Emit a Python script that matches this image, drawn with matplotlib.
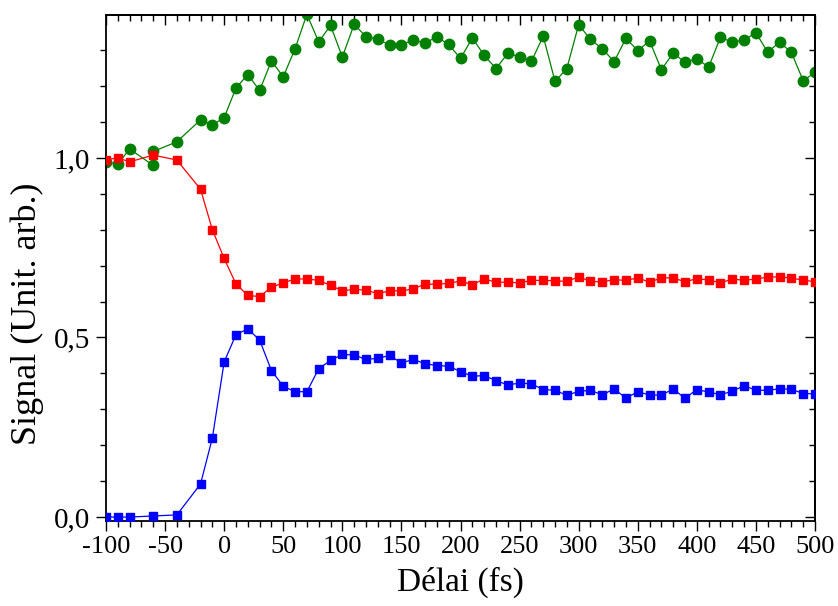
import matplotlib
matplotlib.use("Agg")
import matplotlib.pyplot as plt
from matplotlib.ticker import MultipleLocator, FuncFormatter

plt.rcParams['font.family'] = ['Liberation Serif', 'DejaVu Serif']

# Delay values (fs)
x_main = [-100, -90, -80, -60, -40, -20, -10] + list(range(0, 501, 10))
x_green = [-100, -90, -80, -60, -60, -40, -20, -10] + list(range(0, 501, 10))

green = [0.989, 0.983, 1.025, 0.979, 1.018, 1.045, 1.106, 1.092,
         1.112, 1.195, 1.232, 1.188, 1.270, 1.226, 1.304, 1.400, 1.323, 1.369,
         1.281, 1.372, 1.338, 1.330, 1.315, 1.315, 1.329, 1.320, 1.337, 1.316,
         1.277, 1.334, 1.286, 1.249, 1.291, 1.282, 1.269, 1.339, 1.213, 1.249,
         1.371, 1.330, 1.304, 1.268, 1.333, 1.299, 1.326, 1.246, 1.292, 1.266,
         1.276, 1.253, 1.336, 1.322, 1.329, 1.348, 1.295, 1.322, 1.294, 1.215,
         1.238]

red = [0.995, 1.000, 0.989, 1.008, 0.994, 0.913, 0.800,
       0.720, 0.649, 0.617, 0.614, 0.640, 0.652, 0.663, 0.663, 0.659, 0.645,
       0.630, 0.634, 0.632, 0.622, 0.630, 0.630, 0.635, 0.649, 0.648, 0.651,
       0.657, 0.647, 0.663, 0.654, 0.654, 0.652, 0.659, 0.659, 0.658, 0.656,
       0.669, 0.656, 0.655, 0.661, 0.659, 0.666, 0.654, 0.666, 0.666, 0.655,
       0.664, 0.660, 0.652, 0.663, 0.659, 0.663, 0.668, 0.669, 0.665, 0.660,
       0.655]

blue = [0.000, 0.000, 0.000, 0.003, 0.006, 0.092, 0.220,
        0.432, 0.508, 0.524, 0.493, 0.408, 0.364, 0.349, 0.349, 0.413, 0.436,
        0.453, 0.451, 0.439, 0.442, 0.450, 0.429, 0.439, 0.427, 0.422, 0.420,
        0.405, 0.392, 0.394, 0.380, 0.368, 0.373, 0.371, 0.355, 0.353, 0.339,
        0.350, 0.353, 0.340, 0.357, 0.331, 0.349, 0.340, 0.340, 0.356, 0.331,
        0.355, 0.348, 0.341, 0.350, 0.366, 0.353, 0.353, 0.357, 0.356, 0.344,
        0.343]

fig = plt.figure(figsize=(8.38, 6.06), dpi=100)
ax = fig.add_axes([106/838, 1 - 521/606, (815-106)/838, (521-15)/606])

ax.plot(x_green, green, '-o', color='#008000', lw=0.9, ms=7.5, mec='#008000', zorder=2)
ax.plot(x_main, red, '-s', color='#FF0000', lw=0.9, ms=6.2, mec='#FF0000', zorder=3)
ax.plot(x_main, blue, '-s', color='#0000FF', lw=0.9, ms=6.2, mec='#0000FF', zorder=4)

ax.set_xlim(-100, 500)
ax.set_ylim(-0.011, 1.398)

ax.xaxis.set_major_locator(MultipleLocator(50))
ax.xaxis.set_minor_locator(MultipleLocator(10))
ax.yaxis.set_major_locator(MultipleLocator(0.5))
ax.yaxis.set_minor_locator(MultipleLocator(0.1))
ax.yaxis.set_major_formatter(FuncFormatter(lambda v, p: f"{v:.1f}".replace('.', ',')))
ax.xaxis.set_major_formatter(FuncFormatter(lambda v, p: f"{int(round(v))}"))

for s in ax.spines.values():
    s.set_linewidth(1.3)

ax.tick_params(axis='both', which='major', length=7.5, width=1.0)
ax.tick_params(axis='both', which='minor', length=4.2, width=1.0)
ax.tick_params(axis='x', which='both', direction='out', bottom=True, top=False)
ax.tick_params(axis='y', which='both', direction='out', left=True, right=False)
ax.tick_params(axis='x', which='major', labelsize=19, pad=3)
ax.tick_params(axis='y', which='major', labelsize=21, pad=4)

# inward ticks on top/right
sec_x = ax.secondary_xaxis('top')
sec_x.xaxis.set_major_locator(MultipleLocator(50))
sec_x.xaxis.set_minor_locator(MultipleLocator(10))
sec_x.tick_params(axis='x', which='major', direction='in', length=7.5, width=1.0, labeltop=False)
sec_x.tick_params(axis='x', which='minor', direction='in', length=4.2, width=1.0)
sec_x.spines['top'].set_linewidth(1.3)
sec_y = ax.secondary_yaxis('right')
sec_y.yaxis.set_major_locator(MultipleLocator(0.5))
sec_y.yaxis.set_minor_locator(MultipleLocator(0.1))
sec_y.tick_params(axis='y', which='major', direction='in', length=7.5, width=1.0, labelright=False)
sec_y.tick_params(axis='y', which='minor', direction='in', length=4.2, width=1.0)
sec_y.spines['right'].set_linewidth(1.3)

ax.set_xlabel('Délai (fs)', fontsize=24)
ax.set_ylabel('Signal (Unit. arb.)', fontsize=26)
ax.xaxis.set_label_coords(0.5, -0.091)
ax.yaxis.set_label_coords(-0.087, 0.409)

fig.savefig('out.png', dpi=100)
